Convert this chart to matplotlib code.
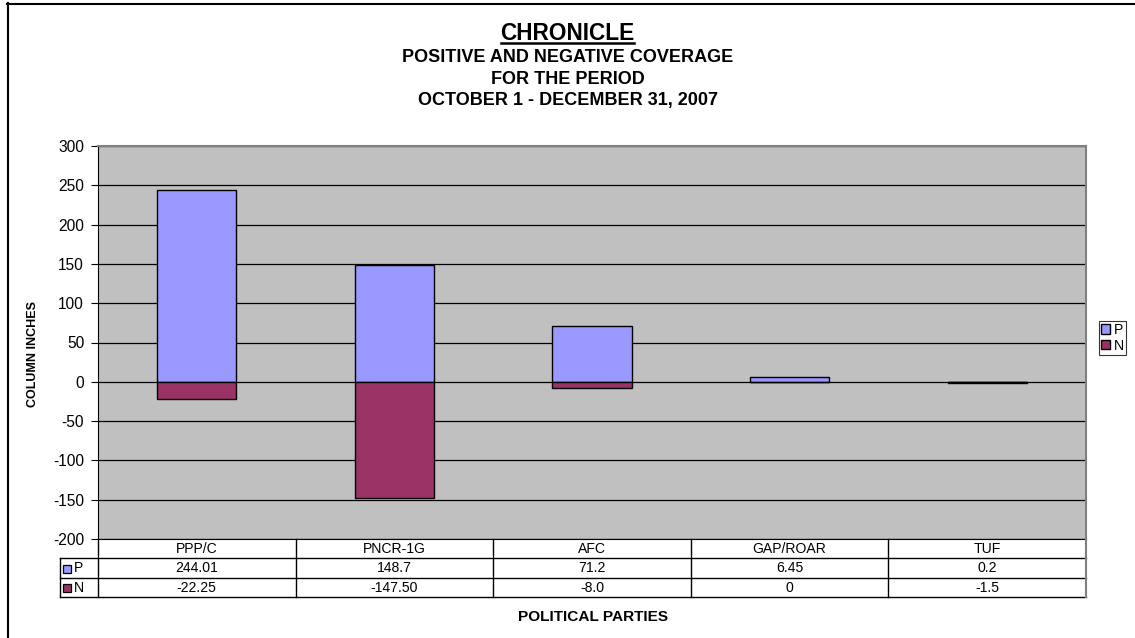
import matplotlib
matplotlib.use("Agg")
import matplotlib.pyplot as plt
from matplotlib.lines import Line2D
from matplotlib.patches import Rectangle
import numpy as np

plt.rcParams['font.family'] = ['Liberation Sans', 'DejaVu Sans']

categories = ["PPP/C", "PNCR-1G", "AFC", "GAP/ROAR", "TUF"]
positive = [244.01, 148.7, 71.2, 6.45, 0.2]
negative = [-22.25, -147.50, -8.0, 0, -1.5]
positive_labels = ["244.01", "148.7", "71.2", "6.45", "0.2"]
negative_labels = ["-22.25", "-147.50", "-8.0", "0", "-1.5"]
yticks = [300, 250, 200, 150, 100, 50, 0, -50, -100, -150, -200]

W, H = 1135, 638
fig = plt.figure(figsize=(W / 100, H / 100), dpi=100)
renderer = fig.canvas.get_renderer()


def fx(px):
    return px / W


def fy(py):
    return 1 - py / H


def fit_size(s, target_w, weight='normal', base=10.0):
    t = fig.text(0, 0, s, fontsize=base, fontweight=weight)
    size = base
    for _ in range(3):
        w = t.get_window_extent(renderer).width
        size = size * target_w / w
        t.set_fontsize(size)
    t.remove()
    return size


fs_tick = fit_size("300", 26)
fs_table = fit_size("244.01", 43)
fs_title = fit_size("CHRONICLE", 134, 'bold')
fs_sub = fit_size("POSITIVE AND NEGATIVE COVERAGE", 332, 'bold')
fs_ylab = fit_size("COLUMN INCHES", 106, 'bold')
fs_xlab = fit_size("POLITICAL PARTIES", 150, 'bold')

# plot area
left, right, top, bottom = 98, 1086, 146, 539
ax = fig.add_axes([fx(left), fy(bottom), fx(right - left), (bottom - top) / H])
ax.set_facecolor('#C0C0C0')
x = np.arange(len(categories))
ax.bar(x, positive, width=0.4, color='#9999FF', edgecolor='black', linewidth=1.0, zorder=3, label='P')
ax.bar(x, negative, width=0.4, color='#993366', edgecolor='black', linewidth=1.0, zorder=3, label='N')
ax.set_xlim(-0.5, len(categories) - 0.5)
ax.set_ylim(-200, 300)
ax.set_yticks(yticks)
ax.set_yticklabels([str(t) for t in yticks], fontsize=fs_tick)
ax.set_xticks([])
ax.yaxis.grid(True, color='black', linewidth=0.9, zorder=1)
ax.set_axisbelow(True)
ax.tick_params(axis='y', length=5, width=0.8, pad=5)
for s in ['top', 'right']:
    ax.spines[s].set_color('#808080')
    ax.spines[s].set_linewidth(1.5)
ax.spines['left'].set_color('black')
ax.spines['bottom'].set_color('black')
fig.text(fx(33), fy(354), 'COLUMN INCHES', rotation=90, ha='center', va='center',
         fontsize=fs_ylab, fontweight='bold')

# table
col_w = (right - left) / len(categories)
col_x = [left + i * col_w for i in range(len(categories) + 1)]
tl_left = 60


def hline(y, x0, x1, lw=1.0, color='black'):
    fig.add_artist(Line2D([fx(x0), fx(x1)], [fy(y), fy(y)], color=color, lw=lw))


def vline(xp, y0, y1, lw=1.0, color='black'):
    fig.add_artist(Line2D([fx(xp), fx(xp)], [fy(y0), fy(y1)], color=color, lw=lw))


hline(558, tl_left, right)
hline(578, tl_left, right)
hline(597, tl_left, right)
for cx in col_x[:-1]:
    vline(cx, 539, 597)
vline(right, 539, 597, lw=1.5, color='#808080')
vline(tl_left, 558, 597)

for i, cat in enumerate(categories):
    cxm = (col_x[i] + col_x[i + 1]) / 2
    fig.text(fx(cxm), fy(553), cat, ha='center', va='baseline', fontsize=fs_table)
    fig.text(fx(cxm), fy(572.5), positive_labels[i], ha='center', va='baseline', fontsize=fs_table)
    fig.text(fx(cxm), fy(592), negative_labels[i], ha='center', va='baseline', fontsize=fs_table)

# table legend keys
for yb, col, lab in [(572.5, '#9999FF', 'P'), (592, '#993366', 'N')]:
    fig.add_artist(Rectangle((fx(63), fy(yb)), fx(8), 8 / H, facecolor=col,
                             edgecolor='black', lw=0.9, transform=fig.transFigure))
    fig.text(fx(74), fy(yb), lab, ha='left', va='baseline', fontsize=fs_table)

fig.text(fx(593), fy(621), 'POLITICAL PARTIES', ha='center', va='baseline',
         fontsize=fs_xlab, fontweight='bold')

# titles
t1 = fig.text(0.5, fy(40.5), 'CHRONICLE', ha='center', va='baseline', fontsize=fs_title, fontweight='bold')
bb = t1.get_window_extent(renderer)
hline(43, bb.x0 + 1, bb.x1 - 1, lw=1.8)
fig.text(0.5, fy(62.5), 'POSITIVE AND NEGATIVE COVERAGE', ha='center', va='baseline', fontsize=fs_sub, fontweight='bold')
fig.text(0.5, fy(83.5), 'FOR THE PERIOD', ha='center', va='baseline', fontsize=fs_sub, fontweight='bold')
fig.text(0.5, fy(104.5), 'OCTOBER 1 - DECEMBER 31, 2007', ha='center', va='baseline', fontsize=fs_sub, fontweight='bold')

# legend
h, l = ax.get_legend_handles_labels()
leg = fig.legend(h, l, loc='upper left', bbox_to_anchor=(fx(1099), fy(321)), fontsize=fs_table,
                 frameon=True, fancybox=False, edgecolor='black', handlelength=0.65,
                 handleheight=0.65, handletextpad=0.25, borderpad=0.15, labelspacing=0.1,
                 borderaxespad=0)
leg.get_frame().set_linewidth(0.8)

# outer border
vline(7.5, 3, 638, lw=1.5)
hline(3.5, 7, 1135, lw=1.5)

fig.savefig('out.png', dpi=100)
